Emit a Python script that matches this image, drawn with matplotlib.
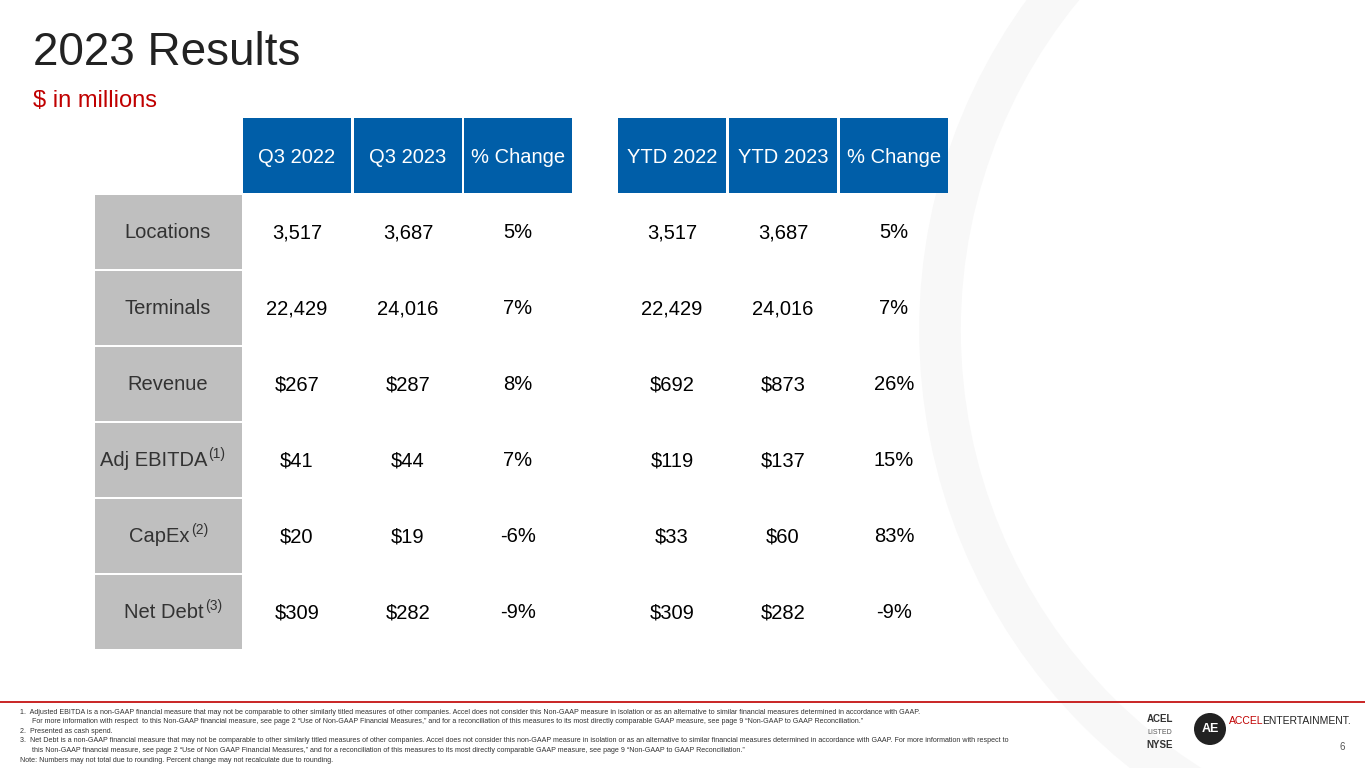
import matplotlib.pyplot as plt
from matplotlib.patches import Rectangle, Circle

plt.rcParams['font.family'] = ['Liberation Sans', 'DejaVu Sans']

row_labels = ['Locations', 'Terminals', 'Revenue', 'Adj EBITDA', 'CapEx', 'Net Debt']
row_notes = ['', '', '', '(1)', '(2)', '(3)']
headers = ['Q3 2022', 'Q3 2023', '% Change', 'YTD 2022', 'YTD 2023', '% Change']
q3_2022 = ['3,517', '22,429', '$267', '$41', '$20', '$309']
q3_2023 = ['3,687', '24,016', '$287', '$44', '$19', '$282']
q3_chg = ['5%', '7%', '8%', '7%', '-6%', '-9%']
ytd_2022 = ['3,517', '22,429', '$692', '$119', '$33', '$309']
ytd_2023 = ['3,687', '24,016', '$873', '$137', '$60', '$282']
ytd_chg = ['5%', '7%', '26%', '15%', '83%', '-9%']

footnotes = [
    "1.  Adjusted EBITDA is a non-GAAP financial measure that may not be comparable to other similarly titled measures of other companies. Accel does not consider this Non-GAAP measure in isolation or as an alternative to similar financial measures determined in accordance with GAAP.",
    "      For more information with respect  to this Non-GAAP financial measure, see page 2 \u201cUse of Non-GAAP Financial Measures,\u201d and for a reconciliation of this measures to its most directly comparable GAAP measure, see page 9 \u201cNon-GAAP to GAAP Reconciliation.\u201d",
    "2.  Presented as cash spend.",
    "3.  Net Debt is a non-GAAP financial measure that may not be comparable to other similarly titled measures of other companies. Accel does not consider this non-GAAP measure in isolation or as an alternative to similar financial measures determined in accordance with GAAP. For more information with respect to",
    "      this Non-GAAP financial measure, see page 2 \u201cUse of Non GAAP Financial Measures,\u201d and for a reconciliation of this measures to its most directly comparable GAAP measure, see page 9 \u201cNon-GAAP to GAAP Reconciliation.\u201d",
    "Note: Numbers may not total due to rounding. Percent change may not recalculate due to rounding.",
]

blue = '#005EA8'
grey = '#BFBFBF'

fig = plt.figure(figsize=(13.65, 7.68), dpi=100)
ax = fig.add_axes([0, 0, 1, 1])
ax.set_xlim(0, 1365)
ax.set_ylim(768, 0)
ax.axis('off')

# faint background swoosh
ax.add_patch(Circle((1480, 330), 540, fill=False, lw=30, ec='#F8F8F8', zorder=0))

ax.text(33, 53, '2023 Results', fontsize=33, color='#222222', va='center')
ax.text(33, 101, '$ in millions', fontsize=17, color='#C00000', va='center')

col_x = [243, 354, 464, 618, 729, 840]
col_w = 108
head_top, head_h = 118, 75
row_top, row_h = 195, 76

for x, h in zip(col_x, headers):
    ax.add_patch(Rectangle((x, head_top), col_w, head_h, fc=blue, ec='none'))
    ax.text(x + col_w / 2, head_top + head_h / 2 + 2, h, fontsize=14.5, color='white',
            ha='center', va='center')

# where the label ends when it carries a footnote mark
label_end = {3: 207, 4: 190, 5: 204}

cols = [q3_2022, q3_2023, q3_chg, ytd_2022, ytd_2023, ytd_chg]
for i, lab in enumerate(row_labels):
    y = row_top + i * row_h
    ax.add_patch(Rectangle((95, y), 147, row_h - 2, fc=grey, ec='none'))
    cy = y + row_h / 2
    if row_notes[i]:
        xe = label_end[i]
        ax.text(xe, cy, lab, fontsize=14.5, color='#333333', ha='right', va='center')
        ax.text(xe + 1, cy - 7, row_notes[i], fontsize=10, color='#333333', ha='left', va='center')
    else:
        ax.text(168, cy, lab, fontsize=14.5, color='#333333', ha='center', va='center')
    for x, c in zip(col_x, cols):
        ax.text(x + col_w / 2, cy, c[i], fontsize=14.5, color='black', ha='center', va='center')

# footer line
ax.plot([0, 1365], [702, 702], color='#C00000', lw=1.2)
for k, f in enumerate(footnotes):
    ax.text(20, 712 + k * 9.6, f, fontsize=5.1, color='#333333', va='center')

# logo area
ax.text(1160, 719, 'ACEL', fontsize=7, weight='bold', ha='center', va='center', color='#333333')
ax.text(1160, 732, 'LISTED', fontsize=5, ha='center', va='center', color='#555555')
ax.text(1160, 745, 'NYSE', fontsize=7, weight='bold', ha='center', va='center', color='#333333')
ax.add_patch(Circle((1210, 729), 16, fc='#222222', ec='none'))
ax.text(1210, 729, 'AE', fontsize=9, weight='bold', ha='center', va='center', color='white')
ax.text(1229, 721, 'ACCEL', fontsize=7.5, color='#C00000', va='center')
ax.text(1262, 721, 'ENTERTAINMENT.', fontsize=7.5, color='#222222', va='center')
ax.text(1340, 747, '6', fontsize=7, color='#555555', va='center')

fig.savefig('out.png', dpi=100)
